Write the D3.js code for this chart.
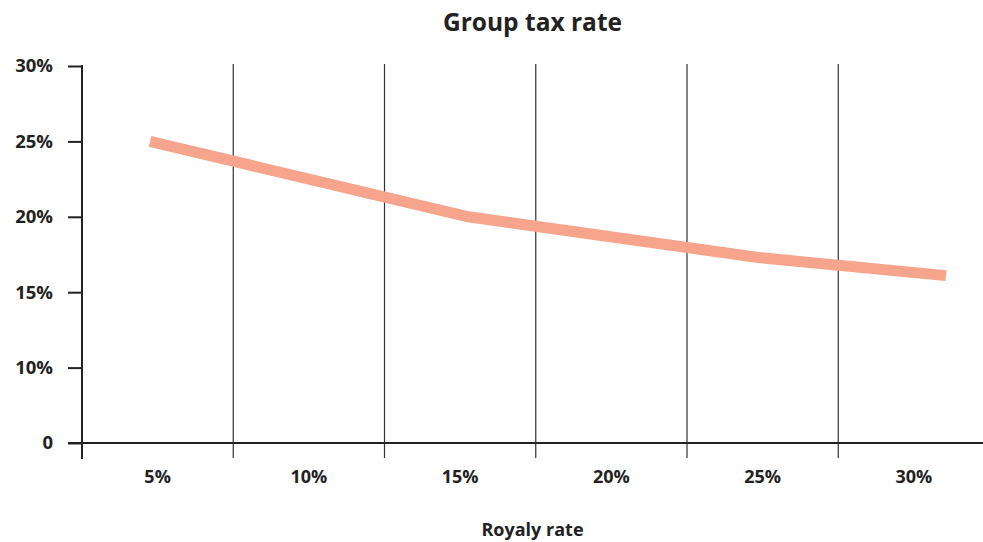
<!DOCTYPE html>
<html>
<head>
<meta charset="utf-8">
<script src="https://cdn.jsdelivr.net/npm/d3@7"></script>
<style>
  html, body { margin: 0; padding: 0; background: #fff; }
  svg { display: block; font-family: "Open Sans", "Noto Sans", sans-serif; }
</style>
</head>
<body>
<svg id="chart" width="983" height="542"></svg>
<script>
// ---- data ----
const title = "Group tax rate";
const xTitle = "Royaly rate";
const categories = ["5%", "10%", "15%", "20%", "25%", "30%"];
const royaltyRate = [5, 15, 24.1, 30];
const groupTaxRate = [25.0, 20.0, 17.3, 16.1];
const yTickValues = [5, 10, 15, 20, 25, 30];
const yTickLabels = ["0", "10%", "15%", "20%", "25%", "30%"];

// ---- layout ----
const svg = d3.select("#chart");
const mLeft = 82, mRight = 989.5, mTop = 66, mBottom = 443;

const xBand = d3.scaleBand().domain(categories).range([mLeft, mRight]).padding(0);
const xLine = d3.scaleLinear().domain([5, 30]).range([150, 946]);
const y = d3.scaleLinear().domain([5, 30]).range([mBottom, mTop]);

// title
svg.append("text")
  .attr("x", (mLeft + 983) / 2).attr("y", 31)
  .attr("text-anchor", "middle")
  .attr("font-size", 24.5).attr("font-weight", 700).attr("fill", "#222")
  .text(title);

// vertical grid lines at band boundaries (inner)
const bounds = categories.slice(1).map(c => xBand(c));
svg.append("g").selectAll("line").data(bounds).join("line")
  .attr("x1", d => d).attr("x2", d => d)
  .attr("y1", 64).attr("y2", mBottom + 15)
  .attr("stroke", "#333").attr("stroke-width", 1.2);

// y axis
const yAxis = d3.axisLeft(y).tickValues(yTickValues)
  .tickFormat((d, i) => yTickLabels[i]).tickSize(14).tickPadding(15);
const gy = svg.append("g").attr("transform", `translate(${mLeft},0)`).call(yAxis);
gy.select(".domain").remove();
gy.selectAll(".tick line").attr("stroke", "#222").attr("stroke-width", 2);
gy.selectAll(".tick text").attr("font-size", 18.5).attr("font-weight", 700)
  .attr("fill", "#222").attr("font-family", "'Open Sans', 'Noto Sans', sans-serif");
svg.append("line")
  .attr("x1", mLeft).attr("x2", mLeft).attr("y1", mTop - 1).attr("y2", mBottom + 16)
  .attr("stroke", "#222").attr("stroke-width", 2);

// x axis line
svg.append("line")
  .attr("x1", 68).attr("x2", mRight).attr("y1", mBottom).attr("y2", mBottom)
  .attr("stroke", "#222").attr("stroke-width", 2);

// x labels
svg.append("g").selectAll("text").data(categories).join("text")
  .attr("x", d => xBand(d) + xBand.bandwidth() / 2)
  .attr("y", mBottom + 40)
  .attr("text-anchor", "middle")
  .attr("font-size", 18).attr("font-weight", 700).attr("fill", "#222")
  .text(d => d);

// x title
svg.append("text")
  .attr("x", (mLeft + 983) / 2).attr("y", 536)
  .attr("text-anchor", "middle")
  .attr("font-size", 18).attr("font-weight", 700).attr("fill", "#222")
  .text(xTitle);

// line
const pts = royaltyRate.map((r, i) => [r, groupTaxRate[i]]);
svg.append("path")
  .datum(pts)
  .attr("fill", "none")
  .attr("stroke", "#f6a48b")
  .attr("stroke-width", 11)
  .attr("stroke-linejoin", "round")
  .attr("d", d3.line().x(d => xLine(d[0])).y(d => y(d[1])));
</script>
</body>
</html>
